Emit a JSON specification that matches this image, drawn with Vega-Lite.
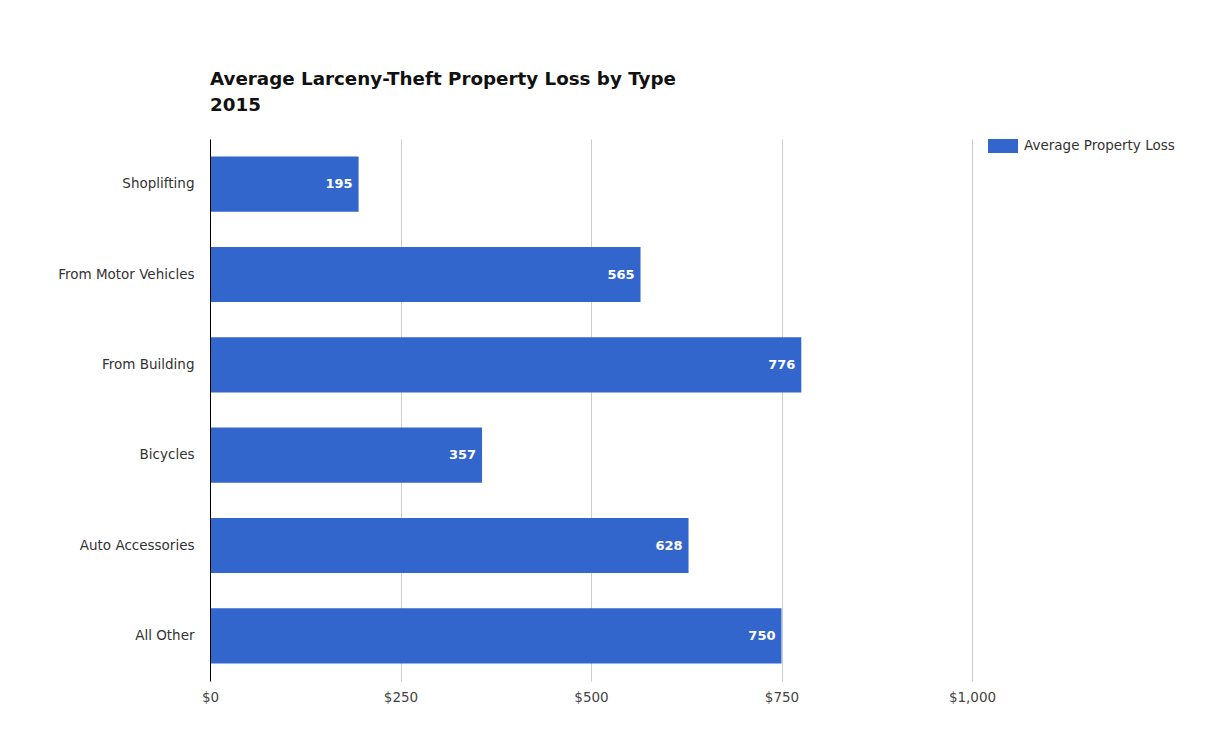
{
  "$schema": "https://vega.github.io/schema/vega-lite/v6.json",
  "autosize": "none",
  "width": 762,
  "height": 542,
  "padding": {"left": 210, "top": 139, "right": 256, "bottom": 51},
  "background": "white",
  "title": {
    "text": ["Average Larceny-Theft Property Loss by Type", "2015"],
    "anchor": "start",
    "frame": "group",
    "font": "DejaVu Sans",
    "fontSize": 18.3,
    "fontWeight": "bold",
    "color": "#111111",
    "lineHeight": 26,
    "offset": 24
  },
  "data": {
    "values": [
      {"type": "Shoplifting", "loss": 195, "series": "Average Property Loss"},
      {"type": "From Motor Vehicles", "loss": 565, "series": "Average Property Loss"},
      {"type": "From Building", "loss": 776, "series": "Average Property Loss"},
      {"type": "Bicycles", "loss": 357, "series": "Average Property Loss"},
      {"type": "Auto Accessories", "loss": 628, "series": "Average Property Loss"},
      {"type": "All Other", "loss": 750, "series": "Average Property Loss"}
    ]
  },
  "encoding": {
    "y": {
      "field": "type",
      "type": "nominal",
      "sort": null,
      "title": null,
      "scale": {"paddingInner": 0.39, "paddingOuter": 0.195},
      "axis": {
        "domainColor": "#000000",
        "domainWidth": 1,
        "ticks": false,
        "grid": false,
        "labelFont": "DejaVu Sans",
        "labelFontSize": 13.5,
        "labelColor": "#333333",
        "labelPadding": 16,
        "zindex": 2
      }
    },
    "x": {
      "field": "loss",
      "type": "quantitative",
      "title": null,
      "scale": {"domain": [0, 1000], "nice": false},
      "axis": {
        "values": [0, 250, 500, 750, 1000],
        "format": "$,.0f",
        "domain": false,
        "ticks": false,
        "grid": true,
        "gridColor": "#cccccc",
        "gridWidth": 1,
        "labelFlush": false,
        "labelFont": "DejaVu Sans",
        "labelFontSize": 13.5,
        "labelColor": "#444444",
        "labelPadding": 9
      }
    }
  },
  "layer": [
    {
      "mark": {"type": "bar", "color": "#3366cc"},
      "encoding": {
        "color": {
          "field": "series",
          "type": "nominal",
          "scale": {"range": ["#3366cc"]},
          "legend": {
            "title": null,
            "orient": "right",
            "offset": 24,
            "padding": 0,
            "symbolType": "M-2.143,-1H2.143V1H-2.143Z",
            "symbolSize": 196,
            "symbolStrokeWidth": 0,
            "symbolOpacity": 1,
            "labelFont": "DejaVu Sans",
            "labelFontSize": 13.5,
            "labelColor": "#333333",
            "labelOffset": 14
          }
        }
      }
    },
    {
      "mark": {
        "type": "text",
        "align": "right",
        "baseline": "middle",
        "dx": -6,
        "color": "white",
        "font": "DejaVu Sans",
        "fontSize": 13,
        "fontWeight": "bold"
      },
      "encoding": {
        "text": {"field": "loss", "type": "quantitative"}
      }
    }
  ],
  "config": {
    "view": {"stroke": null}
  }
}
